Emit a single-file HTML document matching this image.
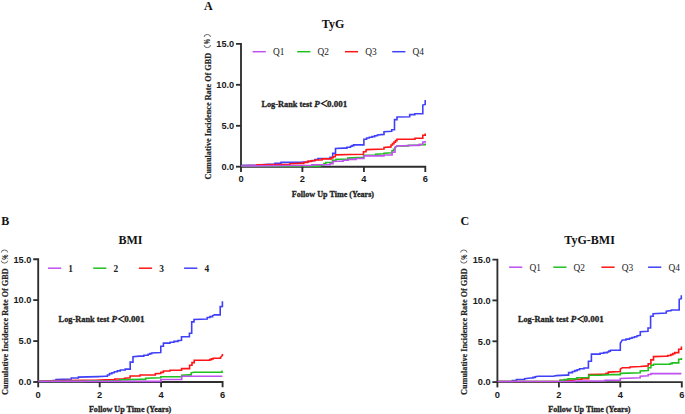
<!DOCTYPE html>
<html><head><meta charset="utf-8"><style>
html,body{margin:0;padding:0;background:#fff;width:685px;height:414px;overflow:hidden}
svg{display:block}
.pl{font-family:"Liberation Serif", serif;font-weight:bold;font-size:12px;fill:#111}
.ti{font-family:"Liberation Serif", serif;font-weight:bold;font-size:12px;fill:#111}
.yl{font-family:"Liberation Serif", serif;font-weight:bold;font-size:8.5px;fill:#222;stroke:#222;stroke-width:0.2px}
.yp{font-family:"Liberation Sans", sans-serif;font-weight:bold;font-size:8.2px;fill:#222}
.xl{font-family:"Liberation Serif", serif;font-weight:bold;font-size:8.7px;fill:#222;stroke:#222;stroke-width:0.3px}
.lg{font-family:"Liberation Serif", serif;font-size:9.4px;fill:#222}
.lgb{font-family:"Liberation Serif", serif;font-weight:bold;font-size:9.4px;fill:#222}
.lr{font-family:"Liberation Serif", serif;font-weight:bold;font-size:9.0px;fill:#222;stroke:#222;stroke-width:0.3px}
.tk{font-family:"Liberation Sans", sans-serif;font-weight:bold;font-size:9.2px;fill:#1a1a1a}
.tkx{font-family:"Liberation Sans", sans-serif;font-weight:bold;font-size:9.3px;fill:#1a1a1a}
</style></head><body>
<svg width="685" height="414" viewBox="0 0 685 414">
<g>
<text x="204.0" y="9.8" class="pl">A</text>
<text x="333.1" y="28.0" class="ti" text-anchor="middle">TyG</text>
<text transform="translate(210.8,179.4) rotate(-90)" class="yl" textLength="126.6" lengthAdjust="spacingAndGlyphs">Cumulative Incidence Rate Of GBD</text>
<text transform="translate(210.3,44.2) rotate(-90)" class="yp" textLength="5.2" lengthAdjust="spacingAndGlyphs">%</text>
<path d="M204.1,45.1 A3.2,2.5 0 0 0 210.5,45.1" fill="none" stroke="#444" stroke-width="0.8"/>
<path d="M204.1,37.0 A3.2,2.5 0 0 1 210.5,37.0" fill="none" stroke="#444" stroke-width="0.8"/>
<line x1="252.6" y1="51.7" x2="265.8" y2="51.7" stroke="#c050f0" stroke-width="1.5"/>
<text x="272.9" y="55.1" class="lg">Q1</text>
<line x1="297.2" y1="51.7" x2="310.4" y2="51.7" stroke="#20c020" stroke-width="1.5"/>
<text x="317.5" y="55.1" class="lg">Q2</text>
<line x1="344.9" y1="51.7" x2="358.09999999999997" y2="51.7" stroke="#ff1515" stroke-width="1.5"/>
<text x="365.2" y="55.1" class="lg">Q3</text>
<line x1="392.2" y1="51.7" x2="405.4" y2="51.7" stroke="#4040f8" stroke-width="1.5"/>
<text x="412.5" y="55.1" class="lg">Q4</text>
<text x="261.4" y="106.9" class="lr" textLength="50.6" lengthAdjust="spacingAndGlyphs">Log-Rank test</text>
<text x="314.2" y="106.9" class="lr" font-style="italic">P</text>
<path d="M327.4,100.2 L321.5,103.5 L327.4,106.8" fill="none" stroke="#222" stroke-width="1.25"/>
<text x="327.0" y="106.9" class="lr" textLength="20.3" lengthAdjust="spacingAndGlyphs">0.001</text>
<path d="M236.0,43.9 H241.0 V166.7 H425.3 V172.0" fill="none" stroke="#2e2e2e" stroke-width="1.85" stroke-linejoin="miter"/>
<polyline points="241.0,166.1 243.0,165.3 256.0,165.3 262.0,164.8 268.0,164.3 275.0,164.3 275.0,163.3 281.0,163.3 281.0,162.4 300.0,162.3 305.0,162.0 308.5,162.0 308.5,161.2 312.0,161.2 312.0,160.5 315.0,160.5 315.0,159.5 318.0,159.5 318.0,158.5 330.0,158.5 330.0,157.4 332.7,157.4 332.7,153.4 335.5,153.4 335.5,148.5 343.4,148.1 346.9,148.1 346.9,147.2 350.5,147.2 350.5,146.3 352.1,146.3 352.1,145.6 353.7,145.6 353.7,144.9 363.9,144.9 363.9,139.3 366.6,139.3 366.6,138.0 369.3,138.0 369.3,137.3 372.0,137.3 372.0,136.6 374.7,136.6 374.7,135.8 377.4,135.8 377.4,135.0 384.0,134.4 384.0,131.7 391.7,131.2 391.7,129.8 394.5,129.8 394.5,119.6 397.0,119.6 397.0,117.0 409.7,116.7 409.7,114.6 414.8,114.6 414.8,113.8 422.8,113.8 422.8,105.1 425.2,104.4 425.2,100.1" fill="none" stroke="#4040f8" stroke-width="1.6" stroke-linejoin="miter"/>
<polyline points="241.0,166.1 250.0,165.6 257.0,165.6 257.0,164.7 282.0,164.5 290.0,164.5 290.0,163.7 300.0,163.4 303.8,163.4 303.8,162.4 307.5,162.4 307.5,161.4 311.1,161.4 311.1,160.7 314.8,160.7 314.8,160.0 322.0,160.0 322.0,158.9 331.6,158.9 331.6,157.8 333.1,157.8 333.1,156.7 335.3,156.7 335.3,154.9 350.5,154.5 363.5,154.3 363.5,151.8 366.0,151.8 366.0,150.0 366.6,149.6 384.0,149.0 384.0,147.4 391.0,146.9 391.0,145.0 392.5,145.0 392.5,143.6 394.0,143.6 394.0,142.1 395.5,142.1 395.5,140.6 397.0,140.6 397.0,139.2 408.3,139.2 415.0,139.2 415.0,138.2 422.8,138.2 422.8,137.3 422.8,135.3 425.2,135.3 425.2,134.4 425.2,133.6" fill="none" stroke="#ff1515" stroke-width="1.6" stroke-linejoin="miter"/>
<polyline points="241.0,166.1 318.0,166.1 320.0,166.1 320.0,165.4 322.0,165.4 322.0,164.7 323.9,164.7 323.9,163.6 325.8,163.6 325.8,162.5 332.5,162.5 332.5,160.3 336.0,160.3 336.0,159.2 338.0,159.2 347.8,159.2 347.8,158.1 363.5,157.4 363.5,155.4 366.0,155.2 375.6,155.2 375.6,154.3 384.0,153.8 384.0,153.2 392.0,152.7 392.0,150.8 393.5,150.8 393.5,149.4 395.0,149.4 395.0,147.9 397.0,146.0 408.4,146.0 408.4,145.3 419.9,145.3 419.9,144.6 425.2,144.6 425.2,143.6" fill="none" stroke="#20c020" stroke-width="1.6" stroke-linejoin="miter"/>
<polyline points="241.0,166.0 290.0,165.5 311.9,165.5 311.9,164.7 330.0,164.7 330.0,163.6 333.0,163.6 333.0,161.4 338.0,161.2 343.1,161.2 343.1,160.3 348.3,160.3 348.3,159.4 356.1,159.4 356.1,158.5 363.9,158.5 363.9,157.6 363.9,155.9 384.0,155.9 384.0,155.0 392.1,155.0 392.1,154.1 392.1,152.2 395.0,152.2 395.0,147.2 397.0,146.0 415.0,145.4 418.9,145.4 418.9,144.5 422.8,144.5 422.8,143.6 422.8,142.0 425.2,142.0 425.2,141.1" fill="none" stroke="#c050f0" stroke-width="1.6" stroke-linejoin="miter"/>
<line x1="236.0" y1="166.7" x2="241.0" y2="166.7" stroke="#2e2e2e" stroke-width="1.85"/>
<text x="234.2" y="170.0" class="tk" text-anchor="end">0.0</text>
<line x1="236.0" y1="125.8" x2="241.0" y2="125.8" stroke="#2e2e2e" stroke-width="1.85"/>
<text x="234.2" y="129.1" class="tk" text-anchor="end">5.0</text>
<line x1="236.0" y1="84.8" x2="241.0" y2="84.8" stroke="#2e2e2e" stroke-width="1.85"/>
<text x="234.2" y="88.1" class="tk" text-anchor="end">10.0</text>
<text x="234.2" y="47.2" class="tk" text-anchor="end">15.0</text>
<line x1="241.0" y1="166.7" x2="241.0" y2="172.0" stroke="#2e2e2e" stroke-width="1.85"/>
<text x="241.0" y="182.3" class="tkx" text-anchor="middle">0</text>
<line x1="302.4" y1="166.7" x2="302.4" y2="172.0" stroke="#2e2e2e" stroke-width="1.85"/>
<text x="302.4" y="182.3" class="tkx" text-anchor="middle">2</text>
<line x1="363.9" y1="166.7" x2="363.9" y2="172.0" stroke="#2e2e2e" stroke-width="1.85"/>
<text x="363.9" y="182.3" class="tkx" text-anchor="middle">4</text>
<text x="425.3" y="182.3" class="tkx" text-anchor="middle">6</text>
<text x="291.7" y="196.5" class="xl" textLength="82.4" lengthAdjust="spacingAndGlyphs">Follow Up Time (Years)</text>
</g>
<g>
<text x="1.2" y="225.3" class="pl">B</text>
<text x="130.4" y="243.5" class="ti" text-anchor="middle">BMI</text>
<text transform="translate(8.0,394.9) rotate(-90)" class="yl" textLength="126.6" lengthAdjust="spacingAndGlyphs">Cumulative Incidence Rate Of GBD</text>
<text transform="translate(7.5,259.7) rotate(-90)" class="yp" textLength="5.2" lengthAdjust="spacingAndGlyphs">%</text>
<path d="M1.3,260.6 A3.2,2.5 0 0 0 7.7,260.6" fill="none" stroke="#444" stroke-width="0.8"/>
<path d="M1.3,252.5 A3.2,2.5 0 0 1 7.7,252.5" fill="none" stroke="#444" stroke-width="0.8"/>
<line x1="48.0" y1="268.2" x2="61.2" y2="268.2" stroke="#c050f0" stroke-width="1.5"/>
<text x="68.3" y="271.6" class="lgb">1</text>
<line x1="93.2" y1="268.2" x2="106.4" y2="268.2" stroke="#20c020" stroke-width="1.5"/>
<text x="113.5" y="271.6" class="lgb">2</text>
<line x1="138.9" y1="268.2" x2="152.1" y2="268.2" stroke="#ff1515" stroke-width="1.5"/>
<text x="159.2" y="271.6" class="lgb">3</text>
<line x1="184.1" y1="268.2" x2="197.29999999999998" y2="268.2" stroke="#4040f8" stroke-width="1.5"/>
<text x="204.4" y="271.6" class="lgb">4</text>
<text x="58.6" y="322.4" class="lr" textLength="50.6" lengthAdjust="spacingAndGlyphs">Log-Rank test</text>
<text x="111.4" y="322.4" class="lr" font-style="italic">P</text>
<path d="M124.6,315.7 L118.7,319.0 L124.6,322.3" fill="none" stroke="#222" stroke-width="1.25"/>
<text x="124.2" y="322.4" class="lr" textLength="20.3" lengthAdjust="spacingAndGlyphs">0.001</text>
<path d="M33.2,259.2 H38.2 V382.0 H222.6 V387.3" fill="none" stroke="#2e2e2e" stroke-width="1.85" stroke-linejoin="miter"/>
<polyline points="38.5,381.4 53.0,381.2 53.0,380.6 56.0,380.6 56.0,379.5 71.3,379.0 71.3,378.0 78.3,378.0 78.3,377.1 98.0,376.6 105.3,376.3 107.4,376.3 107.4,375.0 109.5,375.0 109.5,373.6 111.9,373.6 111.9,372.7 114.3,372.7 114.3,371.8 117.3,371.8 117.3,370.9 120.3,370.9 120.3,370.0 125.2,370.0 125.2,369.1 130.2,369.1 130.2,368.2 130.2,362.1 133.0,362.1 133.0,356.7 139.6,356.1 143.8,356.1 143.8,355.2 148.1,355.2 148.1,354.3 149.9,354.3 149.9,353.6 151.7,353.6 151.7,352.9 160.8,352.6 160.8,346.3 163.4,346.3 163.4,343.1 170.0,343.1 170.0,342.2 174.0,342.2 174.0,341.4 178.0,341.4 178.0,340.6 181.5,340.3 181.5,336.8 189.4,336.6 189.4,333.2 191.7,333.2 191.7,321.9 194.0,321.9 194.0,319.5 207.2,319.0 207.2,317.5 209.9,317.5 209.9,316.6 212.6,316.6 212.6,315.8 214.4,314.9 220.2,314.9 220.2,306.6 222.4,306.4 222.4,301.2" fill="none" stroke="#4040f8" stroke-width="1.6" stroke-linejoin="miter"/>
<polyline points="38.5,381.4 48.0,380.9 67.0,380.6 83.5,380.3 95.0,380.2 105.0,379.9 114.8,379.9 114.8,379.0 124.6,379.0 124.6,378.2 130.1,377.8 130.1,376.0 140.0,376.0 140.0,375.0 155.3,375.0 155.3,373.8 160.8,373.4 160.8,372.4 163.4,372.4 163.4,371.0 170.0,371.0 170.0,370.2 181.6,370.2 181.6,369.2 181.6,368.6 189.6,368.6 189.6,365.2 192.0,365.2 192.0,362.6 194.2,362.6 194.2,360.3 207.9,360.3 209.7,360.3 209.7,359.6 211.4,359.6 211.4,358.9 213.2,358.9 213.2,358.2 220.5,358.2 220.5,357.3 222.4,355.5 222.4,353.9" fill="none" stroke="#ff1515" stroke-width="1.6" stroke-linejoin="miter"/>
<polyline points="38.5,381.4 83.5,381.4 88.8,380.9 95.0,380.9 120.0,380.9 120.0,379.9 140.0,379.4 145.7,379.4 145.7,378.2 160.8,377.8 160.8,376.8 181.7,376.8 181.7,375.9 181.7,375.2 189.6,374.9 191.2,374.9 191.2,372.8 194.0,372.3 222.0,372.3 222.0,371.2 222.4,370.6" fill="none" stroke="#20c020" stroke-width="1.6" stroke-linejoin="miter"/>
<polyline points="38.5,381.4 160.8,381.4 160.8,379.5 181.7,379.5 181.7,376.3 222.4,376.3" fill="none" stroke="#c050f0" stroke-width="1.6" stroke-linejoin="miter"/>
<line x1="33.2" y1="382.0" x2="38.2" y2="382.0" stroke="#2e2e2e" stroke-width="1.85"/>
<text x="31.4" y="385.3" class="tk" text-anchor="end">0.0</text>
<line x1="33.2" y1="341.1" x2="38.2" y2="341.1" stroke="#2e2e2e" stroke-width="1.85"/>
<text x="31.4" y="344.4" class="tk" text-anchor="end">5.0</text>
<line x1="33.2" y1="300.1" x2="38.2" y2="300.1" stroke="#2e2e2e" stroke-width="1.85"/>
<text x="31.4" y="303.4" class="tk" text-anchor="end">10.0</text>
<text x="31.4" y="262.5" class="tk" text-anchor="end">15.0</text>
<line x1="38.2" y1="382.0" x2="38.2" y2="387.3" stroke="#2e2e2e" stroke-width="1.85"/>
<text x="38.2" y="397.6" class="tkx" text-anchor="middle">0</text>
<line x1="99.7" y1="382.0" x2="99.7" y2="387.3" stroke="#2e2e2e" stroke-width="1.85"/>
<text x="99.7" y="397.6" class="tkx" text-anchor="middle">2</text>
<line x1="161.1" y1="382.0" x2="161.1" y2="387.3" stroke="#2e2e2e" stroke-width="1.85"/>
<text x="161.1" y="397.6" class="tkx" text-anchor="middle">4</text>
<text x="222.6" y="397.6" class="tkx" text-anchor="middle">6</text>
<text x="88.9" y="412.0" class="xl" textLength="82.4" lengthAdjust="spacingAndGlyphs">Follow Up Time (Years)</text>
</g>
<g>
<text x="460.5" y="225.3" class="pl">C</text>
<text x="589.6" y="243.5" class="ti" text-anchor="middle">TyG-BMI</text>
<text transform="translate(467.3,394.9) rotate(-90)" class="yl" textLength="126.6" lengthAdjust="spacingAndGlyphs">Cumulative Incidence Rate Of GBD</text>
<text transform="translate(466.8,259.7) rotate(-90)" class="yp" textLength="5.2" lengthAdjust="spacingAndGlyphs">%</text>
<path d="M460.6,260.6 A3.2,2.5 0 0 0 467.0,260.6" fill="none" stroke="#444" stroke-width="0.8"/>
<path d="M460.6,252.5 A3.2,2.5 0 0 1 467.0,252.5" fill="none" stroke="#444" stroke-width="0.8"/>
<line x1="509.1" y1="267.2" x2="522.3000000000001" y2="267.2" stroke="#c050f0" stroke-width="1.5"/>
<text x="529.4" y="270.6" class="lg">Q1</text>
<line x1="553.3" y1="267.2" x2="566.5" y2="267.2" stroke="#20c020" stroke-width="1.5"/>
<text x="573.6" y="270.6" class="lg">Q2</text>
<line x1="601.4" y1="267.2" x2="614.6" y2="267.2" stroke="#ff1515" stroke-width="1.5"/>
<text x="621.7" y="270.6" class="lg">Q3</text>
<line x1="648.1" y1="267.2" x2="661.3000000000001" y2="267.2" stroke="#4040f8" stroke-width="1.5"/>
<text x="668.4" y="270.6" class="lg">Q4</text>
<text x="517.9" y="322.4" class="lr" textLength="50.6" lengthAdjust="spacingAndGlyphs">Log-Rank test</text>
<text x="570.7" y="322.4" class="lr" font-style="italic">P</text>
<path d="M583.9,315.7 L578.0,319.0 L583.9,322.3" fill="none" stroke="#222" stroke-width="1.25"/>
<text x="583.5" y="322.4" class="lr" textLength="20.3" lengthAdjust="spacingAndGlyphs">0.001</text>
<path d="M492.4,259.6 H497.4 V382.1 H681.8 V387.4" fill="none" stroke="#2e2e2e" stroke-width="1.85" stroke-linejoin="miter"/>
<polyline points="497.8,381.5 510.0,381.5 512.3,381.5 512.3,380.5 516.4,380.5 516.4,379.5 524.6,379.5 524.6,378.7 530.7,378.0 533.0,378.0 533.0,377.4 535.3,377.4 535.3,376.7 538.4,376.2 553.2,376.2 556.2,375.6 566.4,375.1 568.6,375.1 568.6,372.6 572.4,372.6 572.4,371.5 574.8,371.5 574.8,370.6 577.1,370.6 577.1,369.7 579.5,369.7 579.5,368.8 584.0,368.8 584.0,368.0 588.4,368.0 588.4,367.2 588.4,361.2 591.4,361.2 591.4,354.1 600.1,354.1 600.1,353.3 603.7,353.3 603.7,352.6 607.2,352.6 607.2,352.0 608.8,352.0 608.8,351.1 610.4,351.1 610.4,350.3 620.3,350.1 620.3,343.3 622.3,340.0 626.0,340.0 626.0,339.1 629.6,339.1 629.6,338.2 632.0,338.2 632.0,337.5 634.5,337.5 634.5,336.7 636.9,336.7 636.9,336.0 640.3,335.4 640.3,331.7 648.0,331.3 648.0,328.0 650.6,328.0 650.6,316.3 653.1,316.3 653.1,313.8 666.3,313.1 666.3,311.2 671.3,310.6 671.3,310.0 679.2,310.0 679.2,299.3 681.3,298.7 681.3,295.3" fill="none" stroke="#4040f8" stroke-width="1.6" stroke-linejoin="miter"/>
<polyline points="497.8,381.5 557.0,381.5 560.0,381.5 560.0,380.4 574.6,380.4 574.6,379.3 581.7,379.3 581.7,378.6 588.7,378.6 588.7,378.0 588.7,374.6 600.0,374.2 606.1,374.2 606.1,373.2 608.3,373.2 608.3,372.1 620.3,371.5 620.3,369.2 622.3,367.8 630.0,367.8 630.0,366.9 640.2,366.5 648.2,365.9 648.2,363.9 650.9,363.9 650.9,359.9 653.5,359.9 653.5,356.6 664.8,356.3 667.8,356.3 667.8,355.5 670.8,355.5 670.8,354.6 672.8,354.6 672.8,353.6 674.8,353.6 674.8,352.6 678.7,352.6 678.7,351.9 678.7,349.3 681.4,349.3 681.4,348.0 681.4,346.6" fill="none" stroke="#ff1515" stroke-width="1.6" stroke-linejoin="miter"/>
<polyline points="497.8,381.5 558.0,381.5 560.4,381.5 560.4,380.4 564.2,380.4 564.2,379.6 568.0,379.6 568.0,378.9 576.7,378.9 576.7,377.8 588.7,377.5 588.7,375.3 600.0,375.3 610.4,374.6 620.3,374.6 620.3,373.9 620.3,373.4 640.2,372.8 640.2,370.9 648.2,370.5 648.2,367.8 650.9,367.8 650.9,365.2 653.5,365.2 653.5,364.3 668.1,364.3 670.1,364.3 670.1,363.6 672.1,363.6 672.1,362.9 678.7,362.9 678.7,361.9 678.7,359.2 681.4,359.2 681.4,358.0" fill="none" stroke="#20c020" stroke-width="1.6" stroke-linejoin="miter"/>
<polyline points="497.8,381.5 574.6,381.5 574.6,381.0 605.0,381.0 605.0,380.2 620.3,380.2 620.3,379.1 620.3,378.5 640.2,377.8 640.2,376.2 648.2,375.8 648.2,374.5 651.0,374.5 651.0,373.6 681.4,373.6" fill="none" stroke="#c050f0" stroke-width="1.6" stroke-linejoin="miter"/>
<line x1="492.4" y1="382.1" x2="497.4" y2="382.1" stroke="#2e2e2e" stroke-width="1.85"/>
<text x="490.6" y="385.4" class="tk" text-anchor="end">0.0</text>
<line x1="492.4" y1="341.3" x2="497.4" y2="341.3" stroke="#2e2e2e" stroke-width="1.85"/>
<text x="490.6" y="344.6" class="tk" text-anchor="end">5.0</text>
<line x1="492.4" y1="300.4" x2="497.4" y2="300.4" stroke="#2e2e2e" stroke-width="1.85"/>
<text x="490.6" y="303.7" class="tk" text-anchor="end">10.0</text>
<text x="490.6" y="262.9" class="tk" text-anchor="end">15.0</text>
<line x1="497.4" y1="382.1" x2="497.4" y2="387.4" stroke="#2e2e2e" stroke-width="1.85"/>
<text x="497.4" y="397.7" class="tkx" text-anchor="middle">0</text>
<line x1="558.9" y1="382.1" x2="558.9" y2="387.4" stroke="#2e2e2e" stroke-width="1.85"/>
<text x="558.9" y="397.7" class="tkx" text-anchor="middle">2</text>
<line x1="620.3" y1="382.1" x2="620.3" y2="387.4" stroke="#2e2e2e" stroke-width="1.85"/>
<text x="620.3" y="397.7" class="tkx" text-anchor="middle">4</text>
<text x="681.8" y="397.7" class="tkx" text-anchor="middle">6</text>
<text x="548.2" y="412.0" class="xl" textLength="82.4" lengthAdjust="spacingAndGlyphs">Follow Up Time (Years)</text>
</g>
</svg>
</body></html>
